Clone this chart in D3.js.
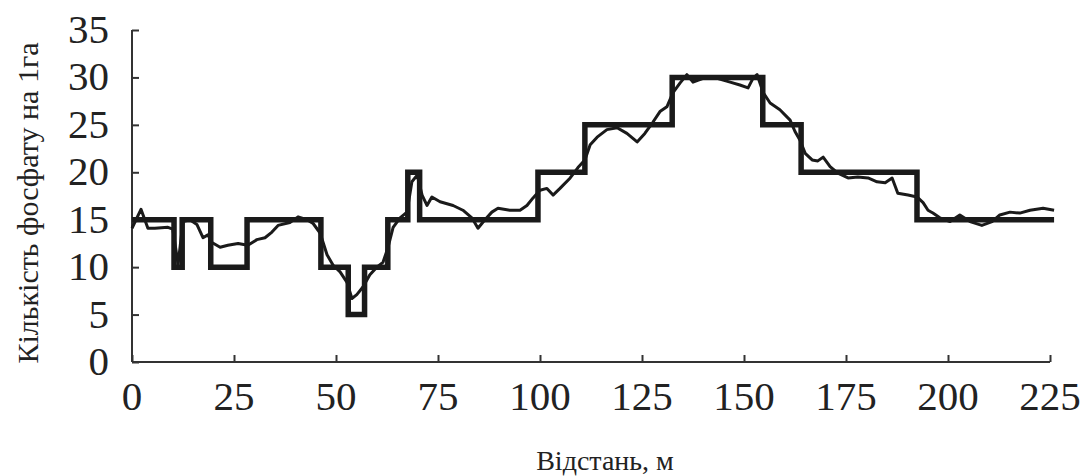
<html>
<head>
    <meta charset="utf-8">
    <script src="https://d3js.org/d3.v7.min.js"></script>
    <style>
        body { margin: 0; background: #fff; }
        text { font-family: "Liberation Serif", "DejaVu Serif", serif; fill: #222; }
        .axis line, .axis path { stroke: #333; stroke-width: 2px; }
        .step { fill: none; stroke: #1a1a1a; stroke-width: 5.5px; stroke-linejoin: miter; }
        .thin { fill: none; stroke: #1a1a1a; stroke-width: 3px; stroke-linejoin: round; }
    </style>
</head>
<body>
    <script>
        // step (zone) series: x where each level starts, and the level
        var stepX = [0, 10.3, 12.3, 19.3, 28.2, 46.3, 53, 57, 62.7, 67.6, 70.5, 99.5, 111, 132.4, 154.6, 164, 192.4, 226];
        var stepY = [15, 10, 15, 10, 15, 10, 5, 10, 15, 20, 15, 20, 25, 30, 25, 20, 15, 15];

        // measured series
        var measX = [0, 2.2, 3.9, 5.6, 8.8, 10, 11.3, 12.5, 14.2, 15.9, 17.4, 18.6, 19.6, 21.6, 23.5, 26, 28.4, 30.6, 32.6, 34.3, 35.8,
            38.7, 40.7, 42.9, 44.4, 46.1, 47.8, 49.3, 51, 52.7, 53.9, 55.1, 56.6, 58.3, 60, 61.5, 62.7, 64, 65.7, 67.4, 68.6, 69.9,
            71.1, 72.3, 73.5, 75.5, 78.7, 81.1, 83.3, 84.8, 86.5, 88.2, 89.7, 92.6, 95.1, 96.8, 98.3, 100, 101.7, 103.2, 104.9, 107.4,
            109.3, 111, 112.3, 114, 116.4, 118.9, 121.3, 123.8, 125.7, 127.7, 129.4, 131.1, 132.6, 134.3, 136, 137.5, 140, 143.4, 146.6,
            149, 151, 152.2, 153.2, 154.7, 156.4, 158.8, 161.3, 162.5, 163.7, 165, 166.7, 168.1, 169.4, 171.1, 173, 175.5, 177.9, 180.4,
            182.6, 184.6, 186.3, 187.7, 190.2, 192.4, 193.9, 195.1, 196.3, 198, 200.5, 202.9, 205.4, 208.3, 210.8, 212.7, 215.2, 217.6,
            220.1, 223.3, 226];
        var measY = [14.1, 16.1, 14.1, 14.1, 14.2, 14, 10.3, 14.8, 15, 14.5, 13.1, 13.4, 12.6, 12.1, 12.3, 12.5, 12.3, 12.9, 13.1, 13.7, 14.4,
            14.7, 15.3, 15, 14.6, 13.6, 11.3, 10.2, 9.5, 8.4, 6.7, 7.1, 7.9, 9.2, 10, 10.5, 12, 14.2, 15.2, 15.8, 19, 19.7,
            17.6, 16.5, 17.4, 16.9, 16.5, 16, 15.2, 14.1, 15, 15.8, 16.2, 16, 16, 16.5, 17.3, 18.1, 18.3, 17.6, 18.3, 19.4,
            20.5, 21.3, 22.9, 23.7, 24.5, 24.7, 24.1, 23.2, 24.1, 25.3, 26.4, 26.9, 28.4, 29.4, 30.3, 29.5, 29.9, 29.9, 29.5,
            29.2, 28.9, 29.9, 30.3, 28.4, 27.3, 26.6, 25.5, 24.3, 23.4, 22, 21.3, 21.2, 21.6, 20.6, 19.9, 19.4, 19.5, 19.4,
            19, 18.9, 19.4, 17.8, 17.6, 17.4, 16.8, 16, 15.7, 15.2, 14.8, 15.5, 14.8, 14.4, 14.8, 15.5, 15.8, 15.7,
            16, 16.2, 16];

        var xTicks = [0, 25, 50, 75, 100, 125, 150, 175, 200, 225];
        var yTicks = [0, 5, 10, 15, 20, 25, 30, 35];

        var width = 1088, height = 476;
        var svg = d3.select("body").append("svg")
            .attr("width", width)
            .attr("height", height);

        var x = d3.scaleLinear().domain([0, 225]).range([132, 1050]);
        var y = d3.scaleLinear().domain([0, 35]).range([362, 30]);

        var xAxis = svg.append("g")
            .attr("class", "axis")
            .attr("transform", "translate(0,362)")
            .call(d3.axisTop(x).tickValues(xTicks).tickSize(7).tickFormat(""));
        xAxis.select(".domain").attr("d", "M132,0H1050");

        var yAxis = svg.append("g")
            .attr("class", "axis")
            .attr("transform", "translate(132,0)")
            .call(d3.axisRight(y).tickValues(yTicks).tickSize(7).tickFormat(""));
        yAxis.select(".domain").attr("d", "M0,30V362");

        // tick labels drawn separately to get the big serif look
        svg.selectAll(".xlab")
            .data(xTicks)
            .enter().append("text")
            .attr("class", "xlab")
            .attr("x", function (d) { return x(d); })
            .attr("y", 410)
            .attr("text-anchor", "middle")
            .attr("font-size", "41px")
            .text(function (d) { return d; });

        svg.selectAll(".ylab")
            .data(yTicks)
            .enter().append("text")
            .attr("class", "ylab")
            .attr("x", 109)
            .attr("y", function (d) { return y(d) + 13; })
            .attr("text-anchor", "end")
            .attr("font-size", "41px")
            .text(function (d) { return d; });

        var stepData = stepX.map(function (d, i) { return [d, stepY[i]]; });
        var measData = measX.map(function (d, i) { return [d, measY[i]]; });

        var line = d3.line()
            .x(function (d) { return x(d[0]); })
            .y(function (d) { return y(d[1]); });

        svg.append("path")
            .datum(measData)
            .attr("class", "thin")
            .attr("d", line.curve(d3.curveLinear));

        svg.append("path")
            .datum(stepData)
            .attr("class", "step")
            .attr("d", line.curve(d3.curveStepAfter));

        svg.append("text")
            .attr("transform", "translate(38,203) rotate(-90)")
            .attr("text-anchor", "middle")
            .attr("font-size", "30px")
            .text("Кількість фосфату на 1га");

        svg.append("text")
            .attr("x", 605)
            .attr("y", 470)
            .attr("text-anchor", "middle")
            .attr("font-size", "28px")
            .text("Відстань, м");
    </script>
</body>
</html>
